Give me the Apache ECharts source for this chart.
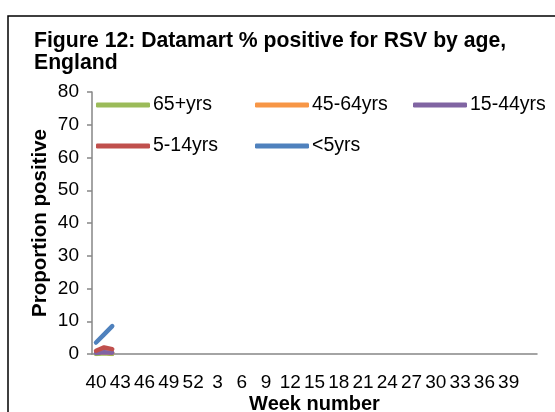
<!DOCTYPE html>
<html>
<head>
<meta charset="utf-8">
<script src="https://cdn.jsdelivr.net/npm/echarts@6/dist/echarts.min.js"></script>
<style>
  html, body { margin: 0; padding: 0; background: #fff; }
  #chart { width: 555px; height: 412px; }
</style>
</head>
<body>
<div id="chart"></div>
<script>
// week numbers, 2013/14 season (sheet has three trailing empty rows)
var weeks = ['40','41','42','43','44','45','46','47','48','49','50','51','52',
  '1','2','3','4','5','6','7','8','9','10','11','12','13','14','15','16','17','18','19','20',
  '21','22','23','24','25','26','27','28','29','30','31','32','33','34','35','36','37','38','39',
  '', ' ', '  '];

var seriesNames = ['65+yrs', '45-64yrs', '15-44yrs', '5-14yrs', '<5yrs'];
var seriesColors = ['#9BBB59', '#F79646', '#8064A2', '#C0504D', '#4F81BD'];

// % positive, only the first weeks reported so far
var age65plus = [0, 0.2, 0];
var age45to64 = [0.5, 0.4, 0.3];
var age15to44 = [0.3, 0.5, 0.4];
var age5to14 = [1, 2, 1.5];
var ageUnder5 = [3.5, 6, 8.5];

var values = [age65plus, age45to64, age15to44, age5to14, ageUnder5];

// legend placement (left, top)
var legendPos = [[96, 95], [255, 95], [413, 95], [96, 136], [255, 136]];

var chart = echarts.init(document.getElementById('chart'));

var font = 'Liberation Sans, Arial, sans-serif';

var option = {
  animation: false,
  backgroundColor: '#fff',
  title: {
    text: 'Figure 12: Datamart % positive for RSV by age,\nEngland',
    left: 34,
    top: 30,
    padding: 0,
    textStyle: { fontFamily: font, fontSize: 21.2, fontWeight: 'bold', color: '#000', lineHeight: 22 }
  },
  graphic: [{
    type: 'rect',
    shape: { x: 8, y: 16, width: 600, height: 500 },
    style: { fill: 'none', stroke: '#000', lineWidth: 1.5 },
    silent: true
  }],
  legend: seriesNames.map(function (name, i) {
    return {
      data: [name],
      left: legendPos[i][0],
      top: legendPos[i][1],
      padding: 0,
      icon: 'roundRect',
      itemWidth: 54,
      itemHeight: 5,
      textStyle: { fontFamily: font, fontSize: 19.5, color: '#000', padding: [0, 0, 0, -2] },
      selectedMode: false
    };
  }),
  grid: { left: 92, right: 18, top: 92, bottom: 58, containLabel: false, outerBoundsMode: 'none' },
  xAxis: {
    type: 'category',
    data: weeks,
    boundaryGap: true,
    name: 'Week number',
    nameLocation: 'middle',
    nameGap: 40,
    nameMoveOverlap: false,
    nameTextStyle: { fontFamily: font, fontSize: 20, fontWeight: 'bold', color: '#000' },
    axisLine: { lineStyle: { color: '#868686', width: 1.5 } },
    axisTick: { interval: 0, length: 5, lineStyle: { color: '#868686', width: 1.5 } },
    axisLabel: { interval: 2, fontFamily: font, fontSize: 19, color: '#000', margin: 19 },
    splitLine: { show: false }
  },
  yAxis: {
    type: 'value',
    min: 0,
    max: 80,
    interval: 10,
    name: 'Proportion positive',
    nameLocation: 'middle',
    nameGap: 41,
    nameMoveOverlap: false,
    nameTextStyle: { fontFamily: font, fontSize: 20.5, fontWeight: 'bold', color: '#000' },
    axisLine: { show: true, lineStyle: { color: '#868686', width: 1.5 } },
    axisTick: { show: true, length: 5, lineStyle: { color: '#868686', width: 1.5 } },
    axisLabel: { fontFamily: font, fontSize: 19, color: '#000', margin: 13 },
    splitLine: { show: false }
  },
  series: seriesNames.map(function (name, i) {
    return {
      name: name,
      type: 'line',
      data: values[i],
      showSymbol: false,
      color: seriesColors[i],
      lineStyle: { width: 4.5, cap: 'round', join: 'round' }
    };
  })
};

chart.setOption(option);
</script>
</body>
</html>
